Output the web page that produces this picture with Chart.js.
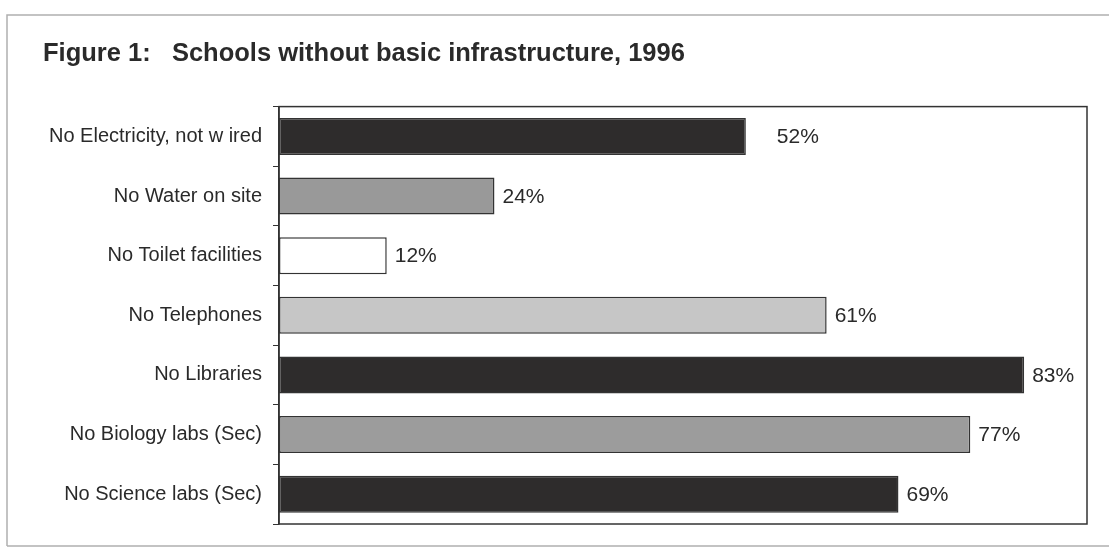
<!DOCTYPE html>
<html lang="en">
<head>
    <meta charset="UTF-8">
    <title>Schools without basic infrastructure, 1996</title>
    <style>
        html, body {
            margin: 0;
            padding: 0;
            background: #fff;
        }
        #wrap {
            position: relative;
            width: 1109px;
            height: 547px;
        }
    </style>
</head>
<body>
    <div id="wrap"><canvas id="canvas"></canvas></div>
</body>

<script src="https://cdn.jsdelivr.net/npm/chart.js"></script>

<script>
const categories = [
    'No Electricity, not w ired',
    'No Water on site',
    'No Toilet facilities',
    'No Telephones',
    'No Libraries',
    'No Biology labs (Sec)',
    'No Science labs (Sec)'
];
const percentValues = [52, 24, 12, 61, 83, 77, 69];

const barFills = ['#2e2c2c', '#999999', '#ffffff', '#c6c6c6', '#2e2c2c', '#9c9c9c', '#2e2c2c'];
const labelGaps = [31, 8, 8, 8, 8, 8, 8];
const ink = '#2a2a2a';

// outer scan frame + plot box
const framePlugin = {
    id: 'frame',
    beforeDraw(chart) {
        const c = chart.ctx;
        c.save();
        c.strokeStyle = '#b0b0b0';
        c.lineWidth = 1.5;
        c.beginPath();
        c.moveTo(7, 546);
        c.lineTo(7, 15);
        c.lineTo(1109, 15);
        c.moveTo(7, 546);
        c.lineTo(1109, 546);
        c.stroke();
        c.restore();
    },
    afterDraw(chart) {
        const a = chart.chartArea;
        const c = chart.ctx;
        c.save();
        c.strokeStyle = '#333';
        c.lineWidth = 1.5;
        c.strokeRect(a.left, a.top, a.right - a.left, a.bottom - a.top);
        c.restore();
    }
};

const valueLabels = {
    id: 'valueLabels',
    afterDatasetsDraw(chart) {
        const c = chart.ctx;
        const meta = chart.getDatasetMeta(0);
        c.save();
        c.font = '21px "Liberation Sans", Arial, sans-serif';
        c.fillStyle = ink;
        c.textAlign = 'left';
        c.textBaseline = 'middle';
        meta.data.forEach((bar, i) => {
            c.fillText(percentValues[i] + '%', bar.x + labelGaps[i], bar.y + 1);
        });
        c.restore();
    }
};

new Chart(document.getElementById('canvas'), {
    type: 'bar',
    data: {
        labels: categories,
        datasets: [{
            data: percentValues,
            backgroundColor: barFills,
            borderColor: '#333',
            borderWidth: 1.5,
            borderSkipped: false,
            barPercentage: 0.62,
            categoryPercentage: 1
        }]
    },
    options: {
        indexAxis: 'y',
        responsive: true,
        maintainAspectRatio: false,
        animation: false,
        layout: {
            padding: { left: 43, right: 22, top: 0, bottom: 21 }
        },
        plugins: {
            legend: { display: false },
            tooltip: { enabled: false },
            title: {
                display: true,
                text: 'Figure 1:   Schools without basic infrastructure, 1996',
                align: 'start',
                color: ink,
                font: { family: '"Liberation Sans", Arial, sans-serif', size: 25.5, weight: 'bold' },
                padding: { top: 39, bottom: 37 }
            }
        },
        scales: {
            x: {
                display: false,
                min: 0,
                max: 90
            },
            y: {
                afterFit(scale) { scale.width = 236; },
                grid: {
                    offset: true,
                    drawOnChartArea: false,
                    tickLength: 6,
                    color: '#333',
                    lineWidth: 1
                },
                border: { display: true, color: '#333', width: 1.5 },
                ticks: {
                    color: ink,
                    padding: 11,
                    font: { family: '"Liberation Sans", Arial, sans-serif', size: 20 }
                }
            }
        }
    },
    plugins: [framePlugin, valueLabels]
});
</script>
</html>
